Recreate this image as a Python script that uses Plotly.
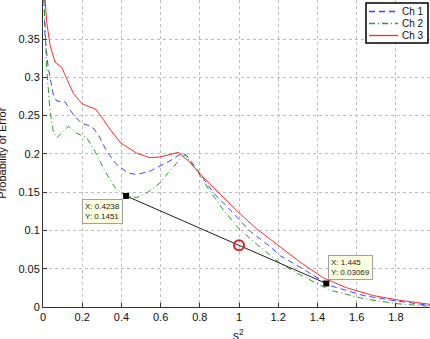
import numpy as np
import plotly.graph_objects as go

# ---- data ----
ch3_x = [0.0, 0.01, 0.019, 0.036, 0.061, 0.095, 0.121, 0.155, 0.197, 0.23, 0.265, 0.291,
         0.342, 0.398, 0.478, 0.546, 0.597, 0.648, 0.69, 0.75, 0.797, 0.878, 1.0, 1.09,
         1.21, 1.31, 1.43, 1.55, 1.685, 1.82, 1.974]
ch3_y = [0.44, 0.398, 0.372, 0.342, 0.320, 0.313, 0.299, 0.279, 0.266, 0.262, 0.259, 0.251,
         0.232, 0.214, 0.201, 0.195, 0.196, 0.199, 0.202, 0.189, 0.175, 0.154, 0.123, 0.102,
         0.079, 0.059, 0.038, 0.025, 0.015, 0.0087, 0.0035]

ch1_x = [0.0, 0.01, 0.027, 0.053, 0.07, 0.112, 0.155, 0.197, 0.248, 0.282, 0.325, 0.376,
         0.435, 0.478, 0.546, 0.614, 0.648, 0.71, 0.733, 0.801, 0.87, 0.954, 1.0, 1.056,
         1.158, 1.21, 1.311, 1.445, 1.464, 1.634, 1.80, 1.974]
ch1_y = [0.44, 0.355, 0.312, 0.277, 0.269, 0.268, 0.251, 0.240, 0.236, 0.225, 0.2035, 0.186,
         0.175, 0.173, 0.1775, 0.186, 0.191, 0.201, 0.198, 0.174, 0.149, 0.127, 0.115, 0.099,
         0.079, 0.067, 0.052, 0.0307, 0.028, 0.015, 0.008, 0.002]

ch2_x = [0.0, 0.019, 0.036, 0.053, 0.07, 0.129, 0.172, 0.223, 0.265, 0.316, 0.367, 0.4238,
         0.478, 0.529, 0.597, 0.639, 0.699, 0.724, 0.801, 0.852, 0.92, 1.0, 1.09, 1.175,
         1.209, 1.311, 1.464, 1.634, 1.80, 1.974]
ch2_y = [0.44, 0.312, 0.255, 0.229, 0.221, 0.236, 0.227, 0.221, 0.2035, 0.1775, 0.156, 0.1451,
         0.143, 0.149, 0.162, 0.1755, 0.193, 0.199, 0.172, 0.151, 0.127, 0.102, 0.082, 0.064,
         0.057, 0.042, 0.022, 0.011, 0.0044, 0.001]

series_names = ["Ch 1", "Ch 2", "Ch 3"]
series_colors = ["#4646f0", "#2e962e", "#ee3030"]
series_dash = ["6px,4px", "6px,3px,1px,3px", "solid"]

tip_x = [0.4238, 1.445]
tip_y = [0.1451, 0.03069]
tip_text = ["X: 0.4238<br>Y: 0.1451", "X: 1.445<br>Y: 0.03069"]
circle_x = [1.0]
circle_y = list(np.interp(circle_x, tip_x, tip_y))

x_ticks = [0, 0.2, 0.4, 0.6, 0.8, 1, 1.2, 1.4, 1.6, 1.8]
y_ticks = [0, 0.05, 0.1, 0.15, 0.2, 0.25, 0.3, 0.35, 0.4]

FONT = "Liberation Sans, Arial, sans-serif"

fig = go.Figure()
for xs, ys, nm, col, dsh in zip([ch1_x, ch2_x, ch3_x], [ch1_y, ch2_y, ch3_y],
                                series_names, series_colors, series_dash):
    fig.add_trace(go.Scatter(x=xs, y=ys, mode="lines", name=nm, showlegend=False,
                             line=dict(color=col, width=1, dash=dsh)))
fig.add_trace(go.Scatter(x=tip_x, y=tip_y, mode="lines+markers", showlegend=False,
                         line=dict(color="#222222", width=1),
                         marker=dict(symbol="square", size=6, color="black")))
fig.add_trace(go.Scatter(x=circle_x, y=circle_y, mode="markers", showlegend=False,
                         marker=dict(symbol="circle-open", size=10, color="#e02020",
                                     line=dict(width=2, color="#e02020"))))

shifts = [(-24, -16), (24, 16)]
for (tx, ty, tt, (sx, sy)) in zip(tip_x, tip_y, tip_text, shifts):
    fig.add_annotation(x=tx, y=ty, text=tt, showarrow=False, xshift=sx, yshift=sy,
                       align="left", bgcolor="#ffffe0", bordercolor="#a0a0a0",
                       borderwidth=1, borderpad=2,
                       font=dict(family=FONT, size=8, color="#222222"))

# ---- compact MATLAB-style legend (drawn in pixel-based paper coords) ----
PL, PW, PB, PH = 43, 387, 307, 307  # plot-area left, width, bottom, height in px
def px(xp):
    return (xp - PL) / PW
def py(yp):
    return (PB - yp) / PH

shapes = [dict(type="rect", xref="paper", yref="paper",
               x0=px(366), x1=px(428), y0=py(43), y1=py(3),
               line=dict(color="black", width=1.5), fillcolor="white", layer="above")]
for i, (nm, col, dsh) in enumerate(zip(series_names, series_colors, series_dash)):
    yy = 11.5 + 12 * i
    shapes.append(dict(type="line", xref="paper", yref="paper",
                       x0=px(369), x1=px(398), y0=py(yy), y1=py(yy),
                       line=dict(color=col, width=1.3, dash=dsh), layer="above"))
    fig.add_annotation(xref="paper", yref="paper", x=px(400), y=py(yy), text=nm,
                       showarrow=False, xanchor="left", yanchor="middle",
                       font=dict(family=FONT, size=10, color="#111111"))

fig.add_annotation(xref="paper", yref="paper", x=-0.108, y=0.5, text="Probability of Error",
                   textangle=-90, showarrow=False, xanchor="center", yanchor="middle",
                   font=dict(family=FONT, size=11, color="#111111"))
fig.add_annotation(xref="paper", yref="paper", x=0.504, y=-0.06, text="s<sup>2</sup>",
                   showarrow=False, xanchor="center", yanchor="top",
                   font=dict(family=FONT, size=12, color="#111111"))

fig.update_layout(
    width=430, height=339,
    margin=dict(l=43, r=0, t=0, b=32),
    paper_bgcolor="white", plot_bgcolor="white",
    font=dict(family=FONT, size=11, color="#111111"),
    showlegend=False,
    shapes=shapes,
    xaxis=dict(range=[0, 1.974], tickvals=x_ticks, ticks="inside", ticklen=4,
               tickcolor="#333333", showline=True, linecolor="#333333", linewidth=1,
               showgrid=True, gridcolor="#bdbdbd", griddash="dot", gridwidth=1,
               zeroline=False, tickfont=dict(family=FONT, size=11)),
    yaxis=dict(range=[0, 0.401], tickvals=y_ticks, ticks="inside", ticklen=4,
               tickcolor="#333333", showline=True, linecolor="#333333", linewidth=1,
               showgrid=True, gridcolor="#bdbdbd", griddash="dot", gridwidth=1,
               zeroline=False, tickfont=dict(family=FONT, size=11)),
)

fig.write_html("out.html")
